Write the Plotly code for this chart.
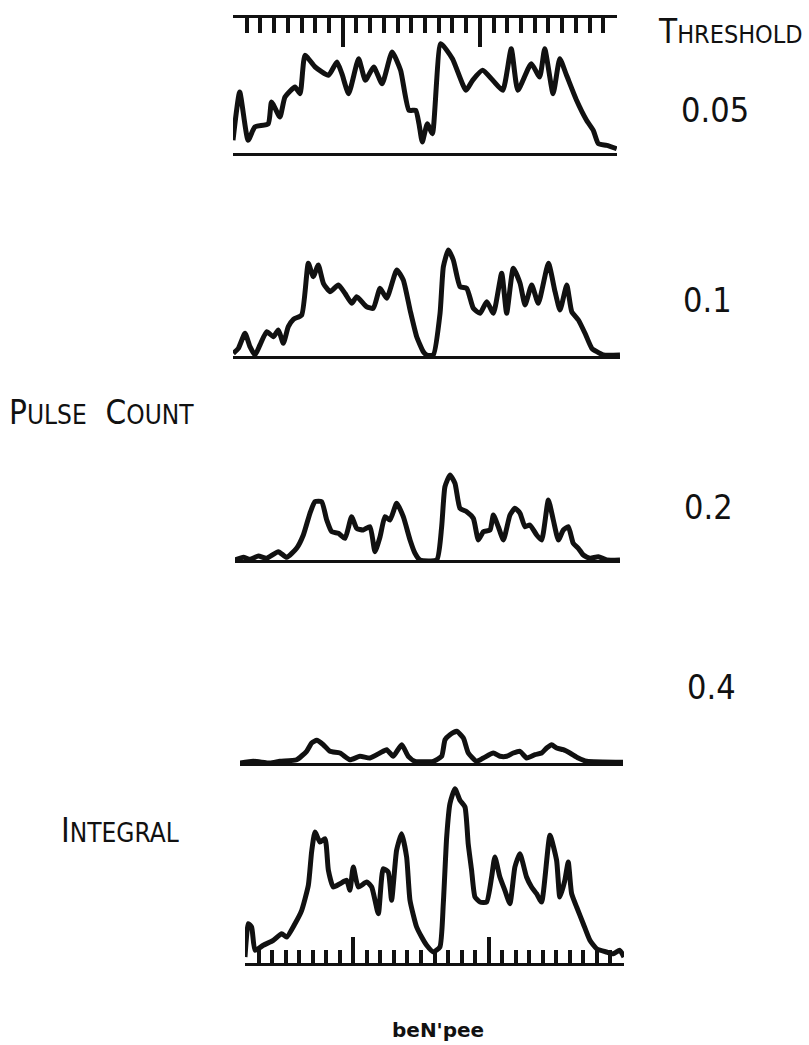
import plotly.graph_objects as go

# ---- recorded traces: time in ruler divisions, amplitude in chart units ----
t_005 = [2.0, 2.49, 3.1, 3.59, 4.57, 4.81, 5.42, 5.79, 6.52, 6.89, 7.25, 7.99, 8.96, 9.58, 9.94,
         10.43, 11.16, 11.65, 12.26, 12.87, 13.6, 14.22, 14.83, 15.32, 15.56, 15.8, 16.17, 16.54,
         17.15, 18.0, 18.99, 19.47, 20.2, 20.94, 21.67, 22.29, 22.77, 23.75, 24.36, 24.73, 25.34,
         25.83, 26.32, 27.05, 27.78, 28.27, 28.64, 29.25, 29.98]
v_005 = [12.7, 61, 12.7, 26, 29.3, 51, 36, 56, 66, 59.3, 97.7, 86, 77.7, 91, 79.3,
         59.3, 94.3, 72.7, 86, 69.3, 101, 82.7, 42.7, 42.7, 29.3, 11, 29.3, 19.3,
         109.3, 94.3, 62.7, 72.7, 82.7, 72.7, 62.7, 104.3, 62.7, 89.3, 76, 104.3, 59.3,
         94.3, 77.7, 52.7, 32.7, 22.7, 9.3, 7.7, 4.3]

t_01 = [2.02, 2.39, 2.87, 3.23, 3.59, 3.95, 4.44, 4.92, 5.28, 5.64, 6.0, 6.37, 6.97, 7.45, 7.81,
        8.17, 8.54, 9.02, 9.62, 10.1, 10.59, 10.95, 11.67, 12.15, 12.64, 13.12, 13.85, 14.32,
        14.81, 15.29, 15.77, 16.02, 16.49, 16.98, 17.22, 17.58, 17.94, 18.43, 18.91, 19.39,
        19.87, 20.36, 20.84, 21.44, 21.8, 22.28, 22.77, 23.13, 23.61, 24.09, 24.82, 25.3,
        25.66, 26.15, 26.51, 26.99, 27.47, 27.96, 28.32, 28.8, 30.0]
v_01 = [2.7, 7.7, 22.7, 9.3, 1, 11, 24.3, 19.3, 26, 12.7, 29.3, 36.7, 41, 92.7, 79.3,
        91, 72.7, 64.3, 71, 62.7, 52.7, 59.3, 49.3, 47.7, 67.7, 57.7, 86, 76,
        46, 19.3, 4.3, 1, 1, 42.7, 89.3, 106, 96, 69.3, 67.7, 47.7,
        42.7, 54.3, 42.7, 82.7, 42.7, 87.7, 72.7, 51, 71, 52.7, 92.7, 64.3,
        46, 71, 44.3, 36, 22.7, 7.7, 4.3, 1, 1]

t_02 = [2.0, 2.61, 3.09, 3.7, 4.3, 5.15, 5.76, 6.48, 6.97, 7.45, 7.82, 8.3, 8.67, 9.03, 9.52,
        10.0, 10.48, 10.85, 11.33, 11.82, 12.18, 12.55, 12.91, 13.27, 13.76, 14.24, 14.73,
        15.09, 15.45, 16.67, 17.03, 17.27, 17.64, 18.0, 18.36, 18.85, 19.33, 19.7, 20.06,
        20.55, 20.79, 21.15, 21.52, 22.0, 22.36, 22.73, 23.09, 23.45, 23.94, 24.3, 24.79,
        25.15, 25.52, 25.88, 26.24, 26.6, 26.97, 27.33, 27.82, 28.42, 29.03, 30.0]
v_02 = [0, 2.7, 0.7, 4, 1.7, 8.3, 2.7, 11.7, 25, 46.7, 58.3, 58.3, 40, 28.3, 26.7,
        21.7, 43.3, 31.7, 30, 33.3, 8.3, 23.3, 43.3, 40, 56.7, 43.3, 20,
        6.7, 0, 0, 33.3, 73.3, 85, 76.7, 51.7, 48.3, 41.7, 20, 28.3,
        30, 45, 33.3, 20, 45, 51.7, 46.7, 33.3, 35, 25, 20, 60,
        40, 20, 30, 33.3, 16.7, 11.7, 5, 1.7, 3.3, 0, 0]

t_04 = [2.0, 2.97, 4.19, 4.92, 6.14, 6.87, 7.24, 7.61, 8.09, 8.58, 9.31, 10.04, 10.77, 11.5,
        12.23, 12.72, 13.2, 13.82, 14.3, 14.79, 16.13, 16.74, 16.99, 17.35, 17.84, 18.33,
        18.69, 19.3, 19.79, 20.52, 21.01, 21.5, 21.98, 22.47, 22.96, 23.56, 24.05, 24.42,
        24.78, 25.15, 25.63, 26.12, 26.73, 27.34, 30.0]
v_04 = [0, 1.7, 0, 1.7, 3.3, 11.7, 20, 22.7, 18.3, 11.7, 10, 3.3, 6.7, 5,
        10, 13.3, 6.7, 18.3, 6.7, 1.7, 1.7, 6.7, 23.3, 28.3, 31.7, 25,
        10, 1.7, 5, 10, 6.7, 6.7, 10, 11.7, 5, 8.3, 10, 15,
        18.3, 15, 13.3, 10, 5, 1.7, 0.7]

t_int = [2.0, 2.25, 2.49, 2.74, 3.35, 4.09, 4.71, 5.08, 5.69, 6.19, 6.68, 6.92, 7.17, 7.54, 7.91,
         8.16, 8.52, 9.02, 9.51, 9.75, 10.0, 10.37, 10.99, 11.36, 11.85, 12.21, 12.58, 12.83,
         13.2, 13.57, 13.94, 14.19, 14.68, 15.05, 15.42, 15.91, 16.4, 16.65, 16.9, 17.14,
         17.51, 17.88, 18.25, 18.49, 18.74, 18.99, 19.36, 19.85, 20.22, 20.46, 20.83, 21.2,
         21.57, 21.94, 22.31, 22.8, 23.17, 23.54, 23.91, 24.53, 25.02, 25.26, 25.63, 25.88,
         26.13, 26.5, 26.99, 27.48, 27.98, 28.71, 29.2, 29.69, 30.0]
v_int = [6, 39.3, 36, 12.7, 17.7, 22.7, 29.3, 26, 39.3, 52.7, 77.7, 111, 131, 121, 124.3,
         92.7, 76, 79.3, 82.7, 72.7, 96, 76, 81, 76, 49.3, 94.3, 91, 62.7,
         112.7, 129.3, 106, 62.7, 36, 26, 17.7, 11, 16, 59.3, 126, 159.3,
         174.3, 162.7, 156, 119.3, 92.7, 66, 61, 61, 86, 106, 86, 72.7,
         59.3, 96, 109.3, 86, 76, 69.3, 61, 127.7, 102.7, 66, 82.7, 101,
         69.3, 56, 39.3, 22.7, 14.3, 11, 9.3, 12.7, 6]

thresholds = ["0.05", "0.1", "0.2", "0.4"]
time_range = [2, 30]

W, H = 809, 1045
INK = "#111111"
LABEL_FONT = "Liberation Sans Narrow, DejaVu Sans Condensed, Arial Narrow, sans-serif"
DIGIT_FONT = "DejaVu Sans Condensed, DejaVu Sans, sans-serif"


def xd(left, right):
    return [left / W, right / W]


def yd(top, bottom):
    return [1 - bottom / H, 1 - top / H]


# panel geometry: (left, right, top, baseline) in pixels
panels = [
    (233, 617, 18, 153),
    (233, 620, 230, 356),
    (235, 620, 460, 560),
    (240, 623, 720, 763),
    (245, 624, 780, 963),
]
series = [(t_005, v_005), (t_01, v_01), (t_02, v_02), (t_04, v_04), (t_int, v_int)]

fig = go.Figure()
layout = {}
for i, ((left, right, top, base), (t, v)) in enumerate(zip(panels, series), start=1):
    sx = "" if i == 1 else str(i)
    fig.add_trace(go.Scatter(
        x=t, y=v, mode="lines", xaxis="x" + sx, yaxis="y" + sx,
        line=dict(color=INK, width=5, shape="spline", smoothing=0.5),
        cliponaxis=False, showlegend=False, hoverinfo="skip",
    ))
    ax = dict(domain=xd(left, right), range=time_range, anchor="y" + sx,
              showgrid=False, zeroline=False, showticklabels=False,
              showline=True, linecolor=INK, linewidth=2.5, ticks="")
    if i == 1:
        # time ruler above the first trace, baseline mirrored below
        ax.update(side="top", mirror=True, ticks="inside", tick0=0, dtick=10,
                  ticklen=29, tickwidth=3.5, tickcolor=INK,
                  minor=dict(ticks="inside", tick0=0, dtick=1, ticklen=15,
                             tickwidth=3.5, tickcolor=INK))
    elif i == 5:
        # time ruler along the baseline of the integral trace
        ax.update(side="bottom", ticks="inside", tick0=0, dtick=10,
                  ticklen=26, tickwidth=3.5, tickcolor=INK,
                  minor=dict(ticks="inside", tick0=0, dtick=1, ticklen=13,
                             tickwidth=3.5, tickcolor=INK))
    ay = dict(domain=yd(top, base), range=[0, base - top], anchor="x" + sx,
              visible=False, fixedrange=True)
    layout["xaxis" + sx] = ax
    layout["yaxis" + sx] = ay

fig.update_layout(**layout)


def ann(text, x, y, size, family=LABEL_FONT, xanchor="center", weight="normal"):
    return dict(text=text, x=x / W, y=1 - y / H, xref="paper", yref="paper",
                xanchor=xanchor, yanchor="middle", showarrow=False,
                font=dict(family=family, size=size, color=INK, weight=weight))


annotations = [
    ann('T<span style="font-size:25px">HRESHOLD</span>', 805, 31, 33, xanchor="right"),
    ann('P<span style="font-size:26px">ULSE</span>  C<span style="font-size:26px">OUNT</span>',
        101, 412, 33),
    ann('I<span style="font-size:26px">NTEGRAL</span>', 120, 830, 33),
    ann("beN'pee", 438, 1030, 20, family="DejaVu Sans, sans-serif", weight="bold"),
]
label_y = [110, 300, 507, 687]
label_x = [715, 707, 708, 711]
for txt, lx, ly in zip(thresholds, label_x, label_y):
    annotations.append(ann(txt, lx, ly, 34, family=DIGIT_FONT))

fig.update_layout(
    width=W, height=H, margin=dict(l=0, r=0, t=0, b=0),
    paper_bgcolor="white", plot_bgcolor="white",
    annotations=annotations, showlegend=False,
)

fig.write_html("out.html")
